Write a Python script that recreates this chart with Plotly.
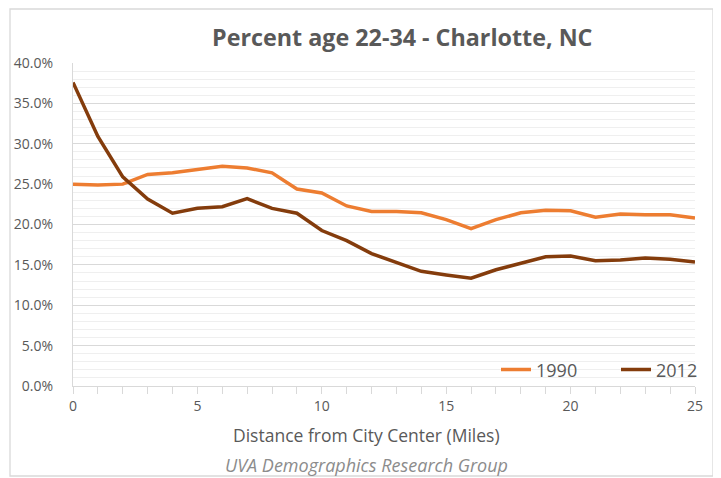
import plotly.graph_objects as go

distance = list(range(0, 26))
pct_1990 = [25.0, 24.9, 25.0, 26.2, 26.4, 26.85, 27.2, 27.0, 26.4, 24.4, 23.9, 22.3, 21.6,
            21.6, 21.45, 20.6, 19.5, 20.6, 21.45, 21.75, 21.7, 20.9, 21.3, 21.2, 21.2, 20.8]
pct_2012 = [37.6, 30.9, 25.9, 23.15, 21.4, 22.0, 22.2, 23.2, 22.0, 21.4, 19.25, 18.0, 16.4,
            15.35, 14.2, 13.75, 13.35, 14.4, 15.2, 16.0, 16.1, 15.5, 15.6, 15.85, 15.7, 15.35]
series_names = ["1990", "2012"]
title_text = "Percent age 22-34 - Charlotte, NC"
x_title = "Distance from City Center (Miles)"
footer = "UVA Demographics Research Group"

FONT = "Open Sans, Segoe UI, sans-serif"
GREY = "#595959"

# the page adds an 8px body margin, so the figure is 8px smaller on each side
PW, PH = 622, 323  # plot area size in px

fig = go.Figure()
fig.add_trace(go.Scatter(x=distance, y=[v / 100 for v in pct_1990], mode="lines",
                         name=series_names[0], line=dict(color="#ED7D31", width=3.5)))
fig.add_trace(go.Scatter(x=distance, y=[v / 100 for v in pct_2012], mode="lines",
                         name=series_names[1], line=dict(color="#843C0C", width=3.5)))

fig.update_layout(
    width=713, height=470,
    margin=dict(l=65, r=26, t=55, b=92, pad=0, autoexpand=False),
    paper_bgcolor="white", plot_bgcolor="white",
    font=dict(family=FONT, color=GREY, size=14),
    showlegend=True,
    legend=dict(orientation="h", x=(496 - 73) / PW, xanchor="left", y=0.05, yanchor="middle",
                font=dict(size=18, color=GREY), bgcolor="rgba(0,0,0,0)",
                traceorder="normal", entrywidth=75, entrywidthmode="pixels"),
    shapes=[dict(type="rect", xref="paper", yref="paper",
                 x0=-63 / PW, x1=640 / PW, y0=-90 / PH, y1=(386 - 9) / PH,
                 line=dict(color="#D9D9D9", width=1.3), fillcolor="rgba(0,0,0,0)", layer="below")],
    annotations=[
        dict(text="<b>" + title_text + "</b>", xref="paper", yref="paper",
             x=(402 - 73) / PW, y=(386 - 37) / PH, xanchor="center", yanchor="middle",
             showarrow=False, font=dict(size=23.3, color=GREY, family=FONT)),
        dict(text=x_title, xref="paper", yref="paper",
             x=(366 - 73) / PW, y=(386 - 435) / PH, xanchor="center", yanchor="middle",
             showarrow=False, font=dict(size=17.5, color=GREY, family=FONT)),
        dict(text="<i>" + footer + "</i>", xref="paper", yref="paper",
             x=(366 - 73) / PW, y=(386 - 465) / PH, xanchor="center", yanchor="middle",
             showarrow=False, font=dict(size=18, color="#8C8C8C", family=FONT)),
    ],
)

fig.update_xaxes(range=[0, 25], dtick=5, tick0=0, showgrid=False, zeroline=False,
                 showline=True, linecolor="#D9D9D9", linewidth=1.3, automargin=False,
                 ticks="outside", ticklen=7, tickcolor="#D9D9D9",
                 minor=dict(dtick=1, ticks="outside", ticklen=7, tickcolor="#D9D9D9", showgrid=False),
                 tickfont=dict(size=14, color=GREY))
fig.update_yaxes(range=[0, 0.4], dtick=0.05, tickformat=".1%", showgrid=True,
                 gridcolor="#D9D9D9", gridwidth=1.3, zeroline=False, automargin=False,
                 showline=True, linecolor="#D9D9D9", linewidth=1.3,
                 ticks="outside", ticklen=0, ticklabelstandoff=16,
                 minor=dict(dtick=0.01, showgrid=True, gridcolor="#EFEFEF", gridwidth=1.3),
                 tickfont=dict(size=14, color=GREY))

fig.write_html("out.html")
